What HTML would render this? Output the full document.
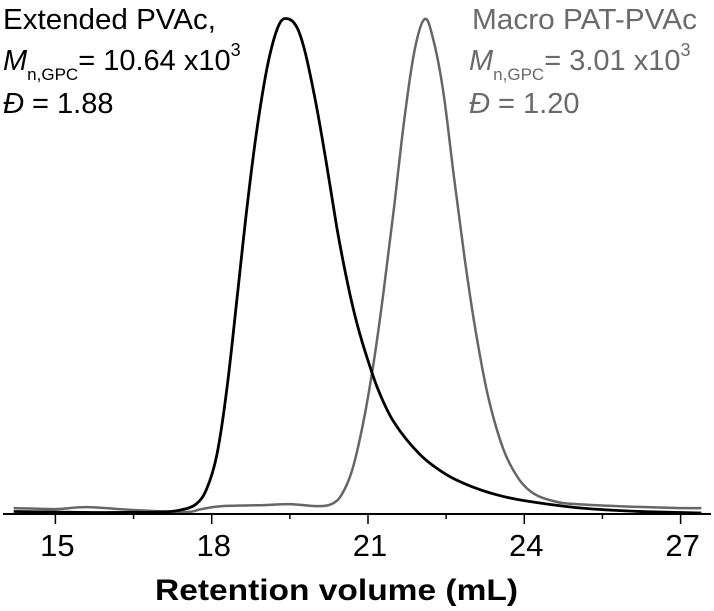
<!DOCTYPE html>
<html><head><meta charset="utf-8"><style>
html,body{margin:0;padding:0;background:#fff;}
svg{display:block;font-family:"Liberation Sans",Arial,sans-serif;}
</style></head><body>
<svg id="chart" width="714" height="611" viewBox="0 0 714 611">
<g id="plot"></g>
<g id="axis"></g>
<text x="155" y="600" font-size="30" font-weight="bold" fill="#000" textLength="363" lengthAdjust="spacingAndGlyphs">Retention volume (mL)</text>
<g fill="#000" font-size="29">
<text x="3" y="29" textLength="213" lengthAdjust="spacingAndGlyphs">Extended PVAc,</text>
<text x="3" y="70"><tspan font-style="italic">M</tspan><tspan font-size="17" dy="10">n,GPC</tspan><tspan dy="-10">= 10.64 x10</tspan><tspan font-size="18" dy="-14">3</tspan></text>
<text x="3" y="113"><tspan font-style="italic">Đ</tspan> = 1.88</text>
</g>
<g fill="#6a6a6a" font-size="29">
<text x="472" y="29" textLength="225" lengthAdjust="spacingAndGlyphs">Macro PAT-PVAc</text>
<text x="469" y="70"><tspan font-style="italic">M</tspan><tspan font-size="17" dy="10">n,GPC</tspan><tspan dy="-10">= 3.01 x10</tspan><tspan font-size="18" dy="-14">3</tspan></text>
<text x="469" y="113"><tspan font-style="italic">Đ</tspan> = 1.20</text>
</g>
</svg>
<script>
const blackX=[14.2,15,16,17,17.4,17.7,17.9,18.1,18.3,18.5,18.7,18.9,19.1,19.3,19.48,19.65,19.8,20.0,20.2,20.4,20.6,20.8,21.0,21.2,21.5,22.0,22.5,23.0,23.5,24,25,26,27,27.4];
const blackY=[0.005,0.004,0.003,0.004,0.008,0.02,0.05,0.12,0.26,0.45,0.64,0.80,0.92,0.99,1.0,0.98,0.93,0.83,0.71,0.58,0.47,0.38,0.31,0.25,0.185,0.12,0.08,0.055,0.038,0.027,0.013,0.006,0.003,0.002];
const grayX=[14.2,15,15.6,16.5,17.5,17.8,18.2,19,19.5,20,20.3,20.5,20.7,20.9,21.1,21.3,21.5,21.7,21.9,22.09,22.25,22.45,22.65,22.85,23.05,23.3,23.6,23.9,24.2,24.6,25,26,27,27.4];
const grayY=[0.012,0.01,0.014,0.008,0.004,0.01,0.016,0.018,0.02,0.016,0.02,0.04,0.09,0.18,0.30,0.45,0.62,0.80,0.94,1.0,0.96,0.85,0.68,0.52,0.38,0.24,0.13,0.07,0.04,0.025,0.02,0.015,0.012,0.012];
const tickLabels=[15,18,21,24,27];
const minorTicks=[16.5,19.5,22.5,25.5];
const NS="http://www.w3.org/2000/svg";
const x0=55.4,ppu=52.1,yBase=514,yTop=19;
function xs(v){return x0+(v-15)*ppu;}
function ys(v){return yBase-v*(yBase-yTop);}
const plot=document.getElementById('plot'),axis=document.getElementById('axis');
function path(X,Y){
 const P=X.map((x,i)=>[xs(x),ys(Y[i])]);
 let d='M'+P[0][0].toFixed(1)+','+P[0][1].toFixed(1);
 for(let i=0;i<P.length-1;i++){
  const p0=P[Math.max(0,i-1)],p1=P[i],p2=P[i+1],p3=P[Math.min(P.length-1,i+2)];
  const c1=[p1[0]+(p2[0]-p0[0])/6,p1[1]+(p2[1]-p0[1])/6];
  const c2=[p2[0]-(p3[0]-p1[0])/6,p2[1]-(p3[1]-p1[1])/6];
  d+='C'+c1[0].toFixed(1)+','+c1[1].toFixed(1)+' '+c2[0].toFixed(1)+','+c2[1].toFixed(1)+' '+p2[0].toFixed(1)+','+p2[1].toFixed(1);
 }
 return d;
}
const g=document.createElementNS(NS,'path');
g.setAttribute('d',path(grayX,grayY));g.setAttribute('fill','none');g.setAttribute('stroke','#666');g.setAttribute('stroke-width','2.5');g.setAttribute('stroke-linejoin','round');


plot.appendChild(g);
const b=document.createElementNS(NS,'path');
b.setAttribute('d',path(blackX,blackY));b.setAttribute('fill','none');b.setAttribute('stroke','#000');b.setAttribute('stroke-width','2.8');b.setAttribute('stroke-linejoin','round');


plot.appendChild(b);
const ax=document.createElementNS(NS,'line');
ax.setAttribute('x1',3);ax.setAttribute('x2',711);ax.setAttribute('y1',yBase);ax.setAttribute('y2',yBase);ax.setAttribute('stroke','#000');ax.setAttribute('stroke-width','2');


axis.appendChild(ax);
tickLabels.forEach(v=>{
 const t=document.createElementNS(NS,'line');
 t.setAttribute('x1',xs(v));t.setAttribute('x2',xs(v));t.setAttribute('y1',yBase);t.setAttribute('y2',yBase+10);t.setAttribute('stroke','#000');t.setAttribute('stroke-width','1.5');
 
 
 axis.appendChild(t);
 const l=document.createElementNS(NS,'text');
 l.setAttribute('x',xs(v)+2);l.setAttribute('y',556);l.setAttribute('text-anchor','middle');l.setAttribute('font-size','31');
 l.textContent=v;
 
 
 axis.appendChild(l);
});
minorTicks.forEach(v=>{
 const t=document.createElementNS(NS,'line');
 t.setAttribute('x1',xs(v));t.setAttribute('x2',xs(v));t.setAttribute('y1',yBase);t.setAttribute('y2',yBase+5);t.setAttribute('stroke','#000');t.setAttribute('stroke-width','1.5');
 
 
 axis.appendChild(t);
});
</script>
</body></html>
